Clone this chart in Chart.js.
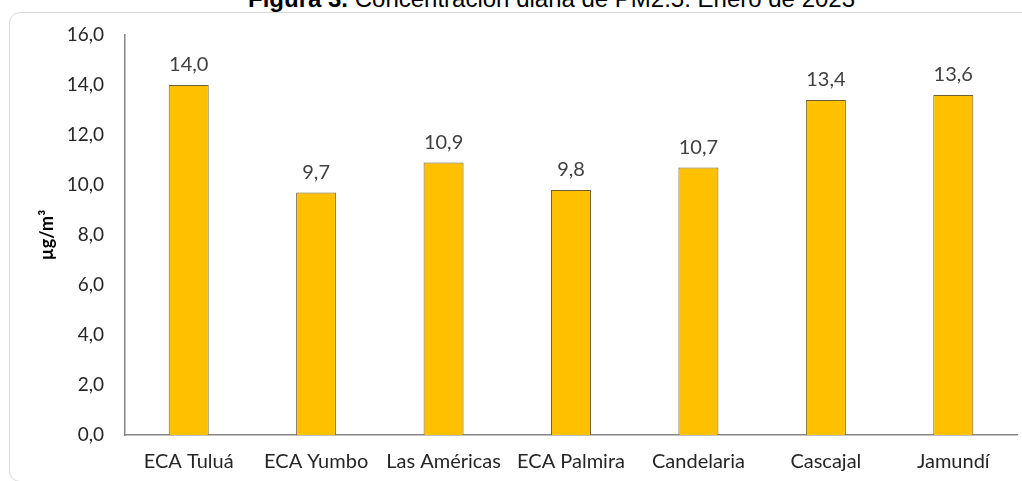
<!DOCTYPE html>
<html>
<head>
<meta charset="utf-8">
<script src="https://cdn.jsdelivr.net/npm/chart.js@4.4.1/dist/chart.umd.min.js"></script>
<style>
  html, body { margin: 0; padding: 0; background: #fff; overflow: hidden; }
  #wrap { position: relative; width: 1022px; height: 481px; }
  #frame {
    position: absolute; left: 9px; top: 12px; width: 1030px; height: 470px;
    border: 1.5px solid #d9d9d9; border-radius: 11px; box-sizing: border-box;
  }
  #title {
    position: absolute; left: 248px; top: -15px; white-space: nowrap;
    font: 24px "Liberation Sans", Arial, sans-serif; color: #000;
  }
  #title b { font-weight: bold; }
  canvas { position: absolute; left: 0; top: 0; }
</style>
</head>
<body>
<div id="wrap">
  <div id="frame"></div>
  <div id="title"><b>Figura 3.</b> Concentración diaria de PM2.5. Enero de 2023</div>
  <canvas id="chart" width="1022" height="481"></canvas>
</div>
<script>
// estaciones y promedio de PM2.5 (µg/m³)
const estaciones = ['ECA Tuluá', 'ECA Yumbo', 'Las Américas', 'ECA Palmira', 'Candelaria', 'Cascajal', 'Jamundí'];
const valores = [14.0, 9.7, 10.9, 9.8, 10.7, 13.4, 13.6];
const yMin = 0, yMax = 16, yPaso = 2;

const FONT = 'Lato, "Open Sans", sans-serif';
const coma = v => Number(v).toFixed(1).replace('.', ',');

// etiquetas de valor encima de cada barra
const etiquetas = {
  id: 'etiquetas',
  afterDatasetsDraw(chart){
    const ctx = chart.ctx;
    const meta = chart.getDatasetMeta(0);
    ctx.save();
    ctx.font = '20px ' + FONT;
    ctx.fillStyle = '#404040';
    ctx.textAlign = 'center';
    ctx.textBaseline = 'bottom';
    meta.data.forEach((bar, i) => {
      ctx.fillText(coma(valores[i]), bar.x, bar.y - 10);
    });
    ctx.restore();
  }
};

new Chart(document.getElementById('chart'), {
  type: 'bar',
  data: {
    labels: estaciones,
    datasets: [{
      data: valores,
      backgroundColor: '#FFC000',
      borderColor: '#6f5f35',
      borderWidth: 1,
      barPercentage: 0.314,
      categoryPercentage: 1
    }]
  },
  options: {
    responsive: false,
    animation: false,
    layout: { padding: { top: 35, right: 5, left: 0, bottom: 0 } },
    plugins: { legend: { display: false }, tooltip: { enabled: false }, title: { display: false } },
    scales: {
      x: {
        grid: { display: false, drawTicks: false },
        border: { display: true, color: '#868686', width: 1.5 },
        ticks: { color: '#262626', font: { family: FONT, size: 20 }, padding: 15, maxRotation: 0, autoSkip: false },
        afterFit(s){ s.height = 46; }
      },
      y: {
        min: yMin, max: yMax,
        grid: { display: false, drawTicks: false },
        border: { display: true, color: '#868686', width: 1.5 },
        ticks: { stepSize: yPaso, color: '#262626', font: { family: FONT, size: 19 }, padding: 21, callback: v => coma(v) },
        title: { display: true, text: 'µg/m³', color: '#000', font: { family: FONT, size: 18, weight: 'bold' }, padding: { top: 36, bottom: 0 } },
        afterFit(s){ s.width = 125; }
      }
    }
  },
  plugins: [etiquetas]
});
</script>
</body>
</html>
